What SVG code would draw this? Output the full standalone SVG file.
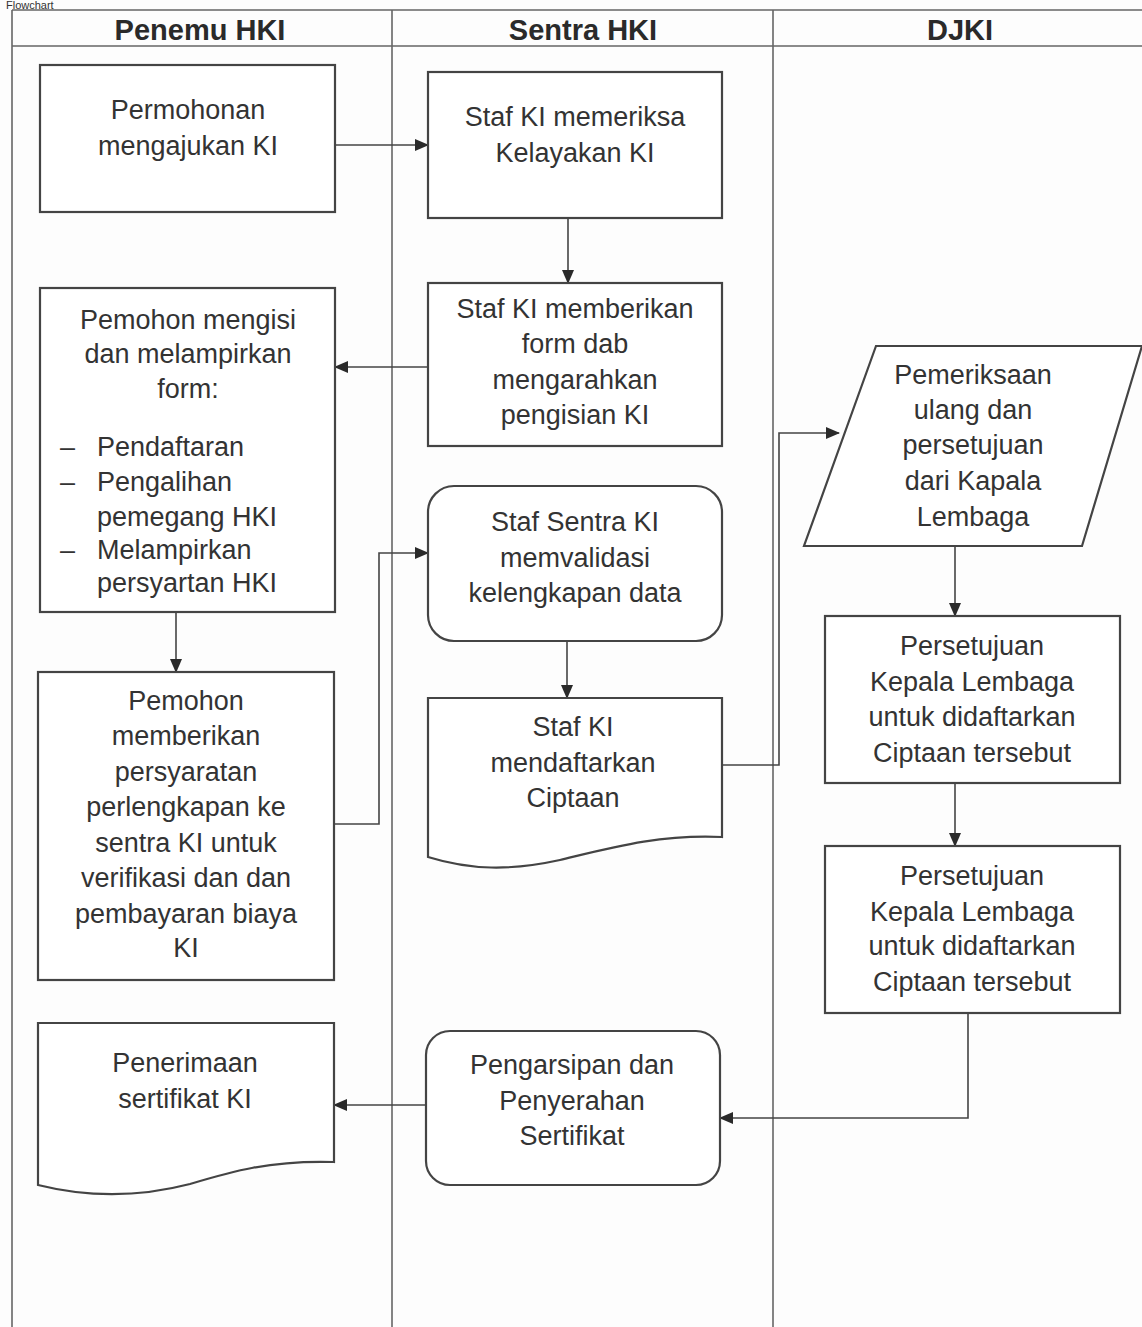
<svg xmlns="http://www.w3.org/2000/svg" width="1142" height="1327" viewBox="0 0 1142 1327">
<defs>
<marker id="arr" markerWidth="14" markerHeight="12" refX="13" refY="6" orient="auto" markerUnits="userSpaceOnUse">
<path d="M0,0 L14,6 L0,12 Z" fill="#2a2a2a"/>
</marker>
<style>
.shape{fill:#fff;stroke:#444;stroke-width:2.2}
.lane{fill:none;stroke:#666;stroke-width:1.6}
.conn{fill:none;stroke:#444;stroke-width:1.6}
text{font-family:"Liberation Sans",Arial,sans-serif;fill:#333}
.t{font-size:27px;text-anchor:middle}
.l{font-size:27px}
.h{font-size:29px;font-weight:bold;text-anchor:middle;fill:#2a2a2a}
</style>
</defs>
<rect width="1142" height="1327" fill="#fdfdfd"/>
<text x="6" y="9" style="font-size:11px">Flowchart</text>
<g id="lanes">
<path class="lane" d="M12,10 H1142 M12,46 H1142 M12,10 V1327 M392,10 V1327 M773,10 V1327"/>
<text x="200" y="40" class="h">Penemu HKI</text>
<text x="583" y="40" class="h">Sentra HKI</text>
<text x="960" y="40" class="h">DJKI</text>
</g>
<g id="connectors">
<path class="conn" marker-end="url(#arr)" d="M335,145 H428"/>
<path class="conn" marker-end="url(#arr)" d="M568,218 V283"/>
<path class="conn" marker-end="url(#arr)" d="M428,367 H335"/>
<path class="conn" marker-end="url(#arr)" d="M176,612 V672"/>
<path class="conn" marker-end="url(#arr)" d="M334,824 H379 V553 H428"/>
<path class="conn" marker-end="url(#arr)" d="M567,641 V698"/>
<path class="conn" marker-end="url(#arr)" d="M722,765 H779 V433 H839"/>
<path class="conn" marker-end="url(#arr)" d="M955,546 V616"/>
<path class="conn" marker-end="url(#arr)" d="M955,783 V846"/>
<path class="conn" marker-end="url(#arr)" d="M968,1013 V1118 H720"/>
<path class="conn" marker-end="url(#arr)" d="M426,1105 H334"/>
</g>
<g id="n1">
<rect class="shape" x="40" y="65" width="295" height="147"/>
<text class="t" x="188" y="119">Permohonan</text>
<text class="t" x="188" y="155">mengajukan KI</text>
</g>
<g id="n2">
<rect class="shape" x="428" y="72" width="294" height="146"/>
<text class="t" x="575" y="126">Staf KI memeriksa</text>
<text class="t" x="575" y="162">Kelayakan KI</text>
</g>
<g id="n3">
<rect class="shape" x="428" y="283" width="294" height="163"/>
<text class="t" x="575" y="318">Staf KI memberikan</text>
<text class="t" x="575" y="353">form dab</text>
<text class="t" x="575" y="389">mengarahkan</text>
<text class="t" x="575" y="424">pengisian KI</text>
</g>
<g id="n4">
<rect class="shape" x="40" y="288" width="295" height="324"/>
<text class="t" x="188" y="329">Pemohon mengisi</text>
<text class="t" x="188" y="363">dan melampirkan</text>
<text class="t" x="188" y="398">form:</text>
<text class="l" x="60" y="456">–</text>
<text class="l" x="97" y="456">Pendaftaran</text>
<text class="l" x="60" y="491">–</text>
<text class="l" x="97" y="491">Pengalihan</text>
<text class="l" x="97" y="526">pemegang HKI</text>
<text class="l" x="60" y="559">–</text>
<text class="l" x="97" y="559">Melampirkan</text>
<text class="l" x="97" y="592">persyartan HKI</text>
</g>
<g id="n5">
<rect class="shape" x="428" y="486" width="294" height="155" rx="26"/>
<text class="t" x="575" y="531">Staf Sentra KI</text>
<text class="t" x="575" y="567">memvalidasi</text>
<text class="t" x="575" y="602">kelengkapan data</text>
</g>
<g id="n6">
<path class="shape" d="M428,698 H722 V837 C660,834 610,848 560,860 C510,871 470,870 428,857 Z"/>
<text class="t" x="573" y="736">Staf KI</text>
<text class="t" x="573" y="772">mendaftarkan</text>
<text class="t" x="573" y="807">Ciptaan</text>
</g>
<g id="n7">
<rect class="shape" x="38" y="672" width="296" height="308"/>
<text class="t" x="186" y="710">Pemohon</text>
<text class="t" x="186" y="745">memberikan</text>
<text class="t" x="186" y="781">persyaratan</text>
<text class="t" x="186" y="816">perlengkapan ke</text>
<text class="t" x="186" y="852">sentra KI untuk</text>
<text class="t" x="186" y="887">verifikasi dan dan</text>
<text class="t" x="186" y="923">pembayaran biaya</text>
<text class="t" x="186" y="957">KI</text>
</g>
<g id="n8">
<path class="shape" d="M876,346 H1142 L1082,546 H804 Z"/>
<text class="t" x="973" y="384">Pemeriksaan</text>
<text class="t" x="973" y="419">ulang dan</text>
<text class="t" x="973" y="454">persetujuan</text>
<text class="t" x="973" y="490">dari Kapala</text>
<text class="t" x="973" y="526">Lembaga</text>
</g>
<g id="n9">
<rect class="shape" x="825" y="616" width="295" height="167"/>
<text class="t" x="972" y="655">Persetujuan</text>
<text class="t" x="972" y="691">Kepala Lembaga</text>
<text class="t" x="972" y="726">untuk didaftarkan</text>
<text class="t" x="972" y="762">Ciptaan tersebut</text>
</g>
<g id="n10">
<rect class="shape" x="825" y="846" width="295" height="167"/>
<text class="t" x="972" y="885">Persetujuan</text>
<text class="t" x="972" y="921">Kepala Lembaga</text>
<text class="t" x="972" y="955">untuk didaftarkan</text>
<text class="t" x="972" y="991">Ciptaan tersebut</text>
</g>
<g id="n11">
<rect class="shape" x="426" y="1031" width="294" height="154" rx="24"/>
<text class="t" x="572" y="1074">Pengarsipan dan</text>
<text class="t" x="572" y="1110">Penyerahan</text>
<text class="t" x="572" y="1145">Sertifikat</text>
</g>
<g id="n12">
<path class="shape" d="M38,1023 H334 V1162 C270,1160 230,1172 190,1184 C140,1197 90,1198 38,1185 Z"/>
<text class="t" x="185" y="1072">Penerimaan</text>
<text class="t" x="185" y="1108">sertifikat KI</text>
</g>
</svg>
